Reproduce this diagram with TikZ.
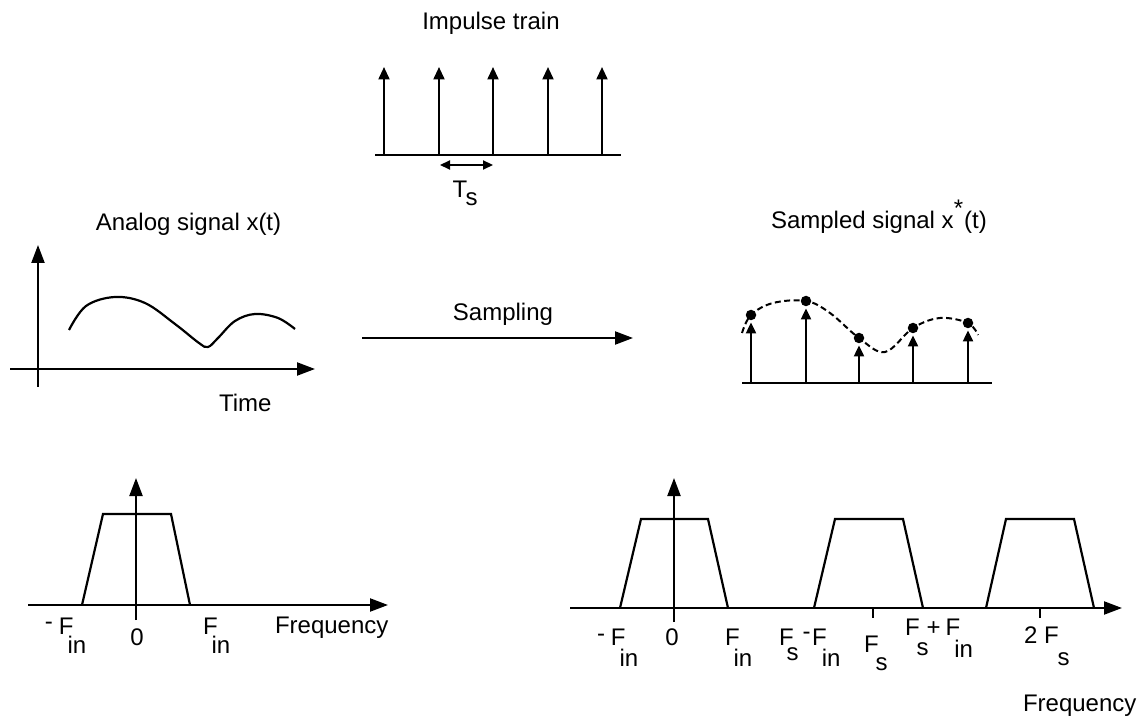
\documentclass[tikz,border=0pt]{standalone}
\usepackage{fontspec}
\setmainfont{Liberation Sans}
\usetikzlibrary{arrows.meta}
\tikzset{
  txt/.style={font=\fontsize{24}{28}\selectfont, inner sep=0pt, outer sep=0pt},
  ln/.style={line width=2.2pt},
  axis/.style={ln, -{Triangle[length=18pt,width=13pt]}},
  imp/.style={ln, -{Triangle[length=12.5pt,width=11pt]}},
  simp/.style={ln, -{Triangle[length=11pt,width=10pt]}},
  dbl/.style={ln, {Triangle[length=10pt,width=9pt]}-{Triangle[length=10pt,width=9pt]}},
  dot/.style={circle, fill=black, inner sep=0pt, minimum size=10.5pt},
  dashcurve/.style={line width=2pt, dash pattern=on 6pt off 3.5pt},
  tick/.style={ln},
  spec/.style={ln, line join=miter},
}
\begin{document}
\begin{tikzpicture}[x=1pt,y=-1pt]
\useasboundingbox (0,0) rectangle (1144,719);

% ---------- Impulse train ----------
\node[txt, anchor=base] (ttl-imp) at (491,30) {Impulse train};
\coordinate (ia-l) at (375,155);
\coordinate (ia-r) at (621,155);
\draw[ln] (ia-l) -- (ia-r);
\foreach \x [count=\i] in {384,439,493,548,602} {
  \coordinate (ib\i) at (\x,155);
  \coordinate (it\i) at (\x,67);
  \draw[imp] (ib\i) -- (it\i);
}
\coordinate (ts-l) at (440,165);
\coordinate (ts-r) at (493,165);
\draw[dbl] (ts-l) -- (ts-r);
\node[txt, anchor=base west] (lbl-ts) at (452.5,198) {T\kern-1.5pt\raisebox{-8pt}{s}};

% ---------- Analog signal ----------
\node[txt, anchor=base] (ttl-an) at (188.5,231) {Analog signal x(t)};
\coordinate (av-b) at (38,387);
\coordinate (av-t) at (38,245);
\coordinate (ah-l) at (10,369);
\coordinate (ah-r) at (315,369);
\draw[axis] (av-b) -- (av-t);
\draw[axis] (ah-l) -- (ah-r);
\draw[ln] plot[smooth, tension=0.6] coordinates {(69,330) (86,306) (115,297) (145,303) (175,324) (199,343) (208,347) (218,338) (235,321) (255,314) (278,318) (295,329)};
\node[txt, anchor=base west] (lbl-time) at (219,412) {Time};

% ---------- Sampling arrow ----------
\node[txt, anchor=base] (lbl-samp) at (503,321) {Sampling};
\coordinate (sa-l) at (362,338);
\coordinate (sa-r) at (633,338);
\draw[axis] (sa-l) -- (sa-r);

% ---------- Sampled signal ----------
\node[txt, anchor=base west] (ttl-sa) at (771,229) {Sampled signal x\raisebox{12pt}{*}\kern1pt(t)};
\coordinate (sx-l) at (742,383);
\coordinate (sx-r) at (992,383);
\draw[ln] (sx-l) -- (sx-r);
\draw[dashcurve] plot[smooth, tension=0.6] coordinates {(742,333) (751,315) (773,303) (806,301) (830,313) (859,338) (885,352) (913,328) (940,318) (968,323) (978,335)};
\foreach \x/\y [count=\i] in {751/315, 806/301, 859/338, 913/328, 968/323} {
  \coordinate (sb\i) at (\x,383);
  \node[dot] (sd\i) at (\x,\y) {};
  \draw[simp] (sb\i) -- ([yshift=-2pt]sd\i.south);
}

% ---------- Left spectrum ----------
\coordinate (lv-b) at (136,620);
\coordinate (lv-t) at (136,478);
\coordinate (lh-l) at (28,605);
\coordinate (lh-r) at (388,605);
\draw[spec] (82,605) -- (103,514) -- (171,514) -- (190,605);
\draw[axis] (lh-l) -- (lh-r);
\draw[axis] (lv-b) -- (lv-t);
\node[txt, anchor=base west] (l-mfin) at (45,634) {\raisebox{4.5pt}{-}\hspace{6pt}F\kern-6pt\raisebox{-19pt}{in}};
\node[txt, anchor=base] (l-zero) at (137,645) {0};
\node[txt, anchor=base west] (l-fin) at (203,634) {F\kern-6pt\raisebox{-19pt}{in}};
\node[txt, anchor=base west] (l-freq) at (275,633) {Frequency};

% ---------- Right spectrum ----------
\coordinate (rv-b) at (674,622);
\coordinate (rv-t) at (674,478);
\coordinate (rh-l) at (570,608);
\coordinate (rh-r) at (1122,608);
\draw[spec] (620,608) -- (641,519) -- (708,519) -- (728,608);
\draw[spec] (814,608) -- (835,519) -- (903,519) -- (923,608);
\draw[spec] (986,608) -- (1006,519) -- (1074,519) -- (1094,608);
\draw[axis] (rh-l) -- (rh-r);
\draw[axis] (rv-b) -- (rv-t);
\coordinate (tk1a) at (873,608); \coordinate (tk1b) at (873,618);
\coordinate (tk2a) at (1040,608); \coordinate (tk2b) at (1040,618);
\draw[tick] (tk1a) -- (tk1b);
\draw[tick] (tk2a) -- (tk2b);
\node[txt, anchor=base west] (r-mfin) at (597,645) {\raisebox{3.5pt}{-}\hspace{6pt}F\kern-6pt\raisebox{-21pt}{in}};
\node[txt, anchor=base] (r-zero) at (672,645) {0};
\node[txt, anchor=base west] (r-fin) at (725,645) {F\kern-6pt\raisebox{-21pt}{in}};
\node[txt, anchor=base west] (r-fsmfin) at (779,645) {F\kern-7pt\raisebox{-15pt}{s}\kern4pt\raisebox{6pt}{-}\kern1.5pt F\kern-5pt\raisebox{-21pt}{in}};
\node[txt, anchor=base west] (r-fs) at (864,652) {F\kern-3pt\raisebox{-18pt}{s}};
\node[txt, anchor=base west] (r-fspfin) at (905,635) {F\kern-3pt\raisebox{-20pt}{s}\kern-2pt+\hspace{5pt}F\kern-6pt\raisebox{-22pt}{in}};
\node[txt, anchor=base west] (r-2fs) at (1024,643) {2 F\kern-1pt\raisebox{-22pt}{s}};
\node[txt, anchor=base west] (r-freq) at (1023,711) {Frequency};
\end{tikzpicture}
\end{document}
